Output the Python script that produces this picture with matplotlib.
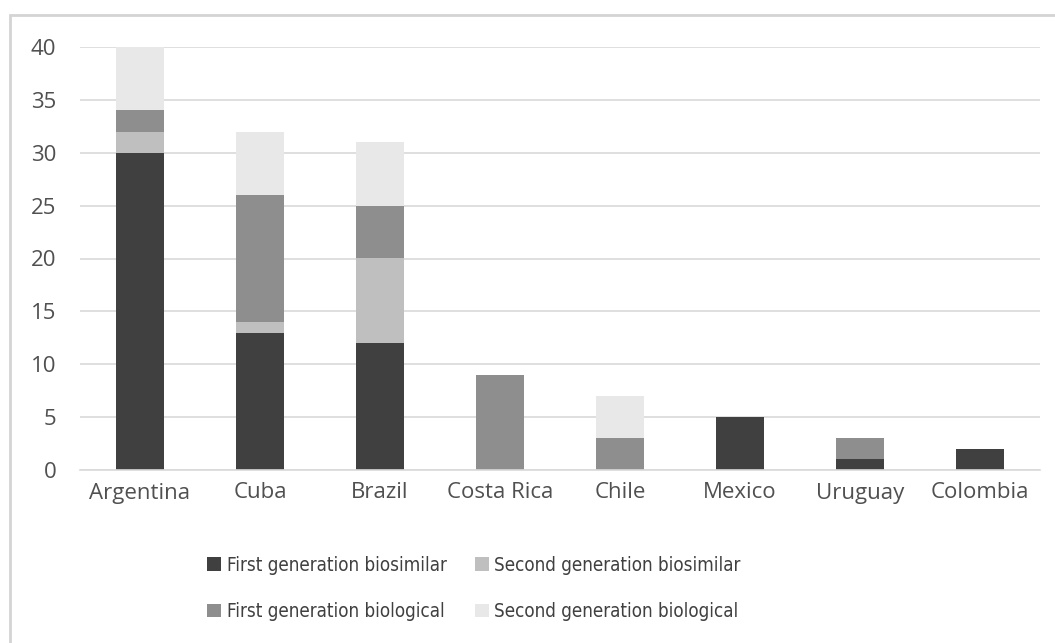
import numpy as np
import matplotlib.pyplot as plt
from matplotlib.patches import Rectangle
from matplotlib import font_manager

# countries and counts per product type
countries = ['Argentina', 'Cuba', 'Brazil', 'Costa Rica', 'Chile', 'Mexico', 'Uruguay', 'Colombia']
first_biosimilar = [30, 13, 12, 0, 0, 5, 1, 2]
second_biosimilar = [2, 1, 8, 0, 0, 0, 0, 0]
first_biological = [2, 12, 5, 9, 3, 0, 2, 0]
second_biological = [6, 6, 6, 0, 4, 0, 0, 0]

series = [
    ('First generation biosimilar', first_biosimilar, '#404040'),
    ('Second generation biosimilar', second_biosimilar, '#bfbfbf'),
    ('First generation biological', first_biological, '#8e8e8e'),
    ('Second generation biological', second_biological, '#e8e8e8'),
]

plt.rcParams['font.family'] = ['Open Sans', 'DejaVu Sans']

fig = plt.figure(figsize=(10.55, 6.43), dpi=100)
W, H = 1055, 643

# light frame around the chart
fig.patches.append(Rectangle((10 / W, -0.05), 1.2, 1 - 15 / H + 0.05,
                             transform=fig.transFigure, fill=False,
                             edgecolor='#d4d4d4', linewidth=2))

ax = fig.add_axes([80 / W, 1 - 470 / H, 960 / W, 423 / H])
x = np.arange(len(countries))
bottom = np.zeros(len(countries))
handles = []
for label, vals, color in series:
    vals = np.array(vals, dtype=float)
    h = ax.bar(x, vals, width=0.4, bottom=bottom, color=color, label=label)
    handles.append(h)
    bottom += vals

ax.set_xlim(-0.5, len(countries) - 0.5)
ax.set_ylim(0, 40)
ax.set_yticks(range(0, 41, 5))
ax.set_xticks(x)
ax.set_xticklabels(countries)
ax.yaxis.grid(True, color='#d9d9d9', linewidth=1.2)
ax.set_axisbelow(True)
for s in ['top', 'right', 'left']:
    ax.spines[s].set_visible(False)
ax.spines['bottom'].set_color('#d9d9d9')
ax.spines['bottom'].set_linewidth(1.2)
ax.tick_params(axis='both', length=0, labelsize=16, labelcolor='#505050')
ax.tick_params(axis='x', pad=9)
ax.tick_params(axis='y', pad=17)

# narrow face for the legend
legend_font = font_manager.FontProperties(family='DejaVu Sans', stretch='condensed', size=13.5)

# legend is filled column by column, so reorder to get row-wise entries
order = [0, 2, 1, 3]
fig.legend(handles=[handles[i] for i in order], loc='upper left', ncol=2,
           frameon=False, bbox_to_anchor=(190 / W, 1 - 539 / H),
           prop=legend_font,
           handlelength=0.75, handleheight=0.75, handletextpad=0.3,
           columnspacing=1.5, labelspacing=1.45, labelcolor='#404040')

fig.savefig('out.png', dpi=100)
